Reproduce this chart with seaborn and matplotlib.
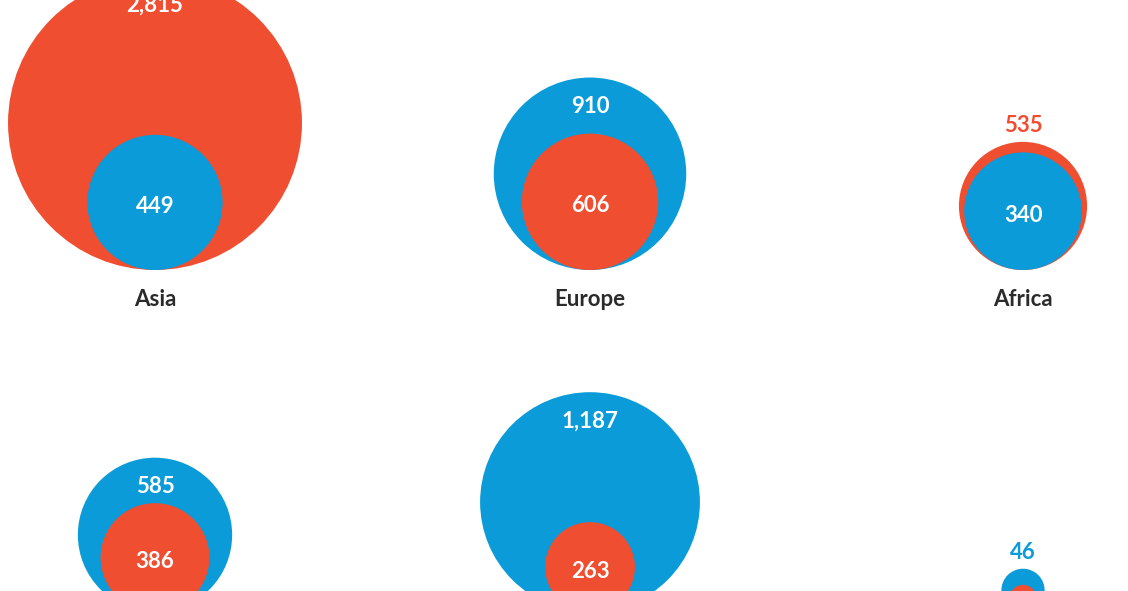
import numpy as np
import pandas as pd
import matplotlib.pyplot as plt
import seaborn as sns

# ------------------------------------------
# Data
# ------------------------------------------
regions = ["Asia", "Europe", "Africa", "Latin America", "North America", "Oceania"]
red_values = [2815, 606, 535, 386, 263, 24]
blue_values = [449, 910, 340, 585, 1187, 46]

# outer value label sits above the circle instead of inside it
outer_label_above = [False, False, True, False, False, True]

RED = "#EF4E30"
BLUE = "#0A9BD8"

# ------------------------------------------
# Layout (axes spans the figure, 1 data unit = 1 px)
# ------------------------------------------
W, H, DPI = 1128, 591, 100
col_x = [155, 590, 1023]
row_base = [270, 612]
# radius in px per sqrt(value); the two series use their own scale
K = {"red": 2.77, "blue": 3.19}
PT_PER_PX = 72 / DPI

rows = []
for i, reg in enumerate(regions):
    x = col_x[i % 3]
    base = row_base[i // 3]
    for series, v in (("red", red_values[i]), ("blue", blue_values[i])):
        r = K[series] * np.sqrt(v)
        rows.append({"region": reg, "series": series, "value": v,
                     "x": x, "y": base - r, "r": r,
                     "area": (2 * r * PT_PER_PX) ** 2})
df = pd.DataFrame(rows).sort_values("r", ascending=False)

smax = df["area"].max()

sns.set_style("white")
plt.rcParams["font.family"] = ["Lato", "DejaVu Sans"]

fig = plt.figure(figsize=(W / DPI, H / DPI), dpi=DPI)
ax = fig.add_axes([0, 0, 1, 1])

sns.scatterplot(data=df, x="x", y="y", hue="series",
                palette={"red": RED, "blue": BLUE},
                size="area", sizes=(0, smax), size_norm=(0, smax),
                linewidth=0, legend=False, ax=ax)

# ------------------------------------------
# Value and region labels
# ------------------------------------------
for i, reg in enumerate(regions):
    x = col_x[i % 3]
    base = row_base[i // 3]
    sub = df[df["region"] == reg].sort_values("r", ascending=False)
    outer, inner = sub.iloc[0], sub.iloc[1]
    out_c = RED if outer["series"] == "red" else BLUE

    if outer_label_above[i]:
        ax.text(x, base - 2 * outer["r"] - 16, f"{outer['value']:,}", color=out_c,
                ha="center", va="center", fontsize=16, fontweight="bold")
    else:
        ax.text(x, base - 2 * outer["r"] + 29, f"{outer['value']:,}", color="white",
                ha="center", va="center", fontsize=16, fontweight="bold")

    if base - inner["r"] < H - 10:
        ax.text(x, base - inner["r"] + 4, f"{inner['value']:,}", color="white",
                ha="center", va="center", fontsize=16, fontweight="bold")

    if base + 28 < H:
        ax.text(x, base + 29, reg, color="#2b2b2b",
                ha="center", va="center", fontsize=16, fontweight="bold")

ax.set_xlim(0, W)
ax.set_ylim(H, 0)
ax.axis("off")

fig.savefig("out.png", dpi=DPI, facecolor="white")
